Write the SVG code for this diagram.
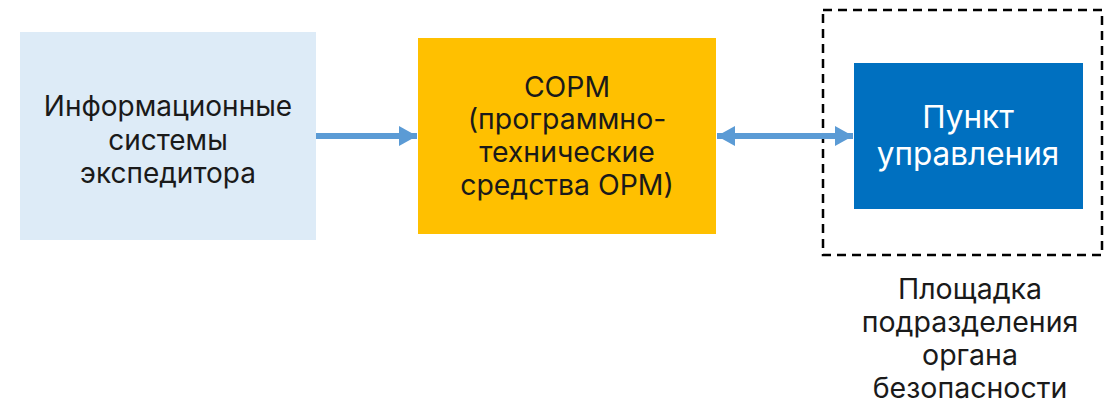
<svg xmlns="http://www.w3.org/2000/svg" width="1104" height="406" viewBox="0 0 1104 406">
<style>
text{font-family:Inter,"Noto Sans",sans-serif;font-size:28px;fill:#1a1a1a;text-anchor:middle}
.m{font-size:28.4px}
.b{font-size:28.5px}
.w{fill:#ffffff;font-size:31.5px}
.c{stroke:#5b9bd5;stroke-width:6;fill:none}
</style>
<defs>
<marker id="ah" markerUnits="userSpaceOnUse" markerWidth="18" markerHeight="20" refX="18" refY="10" orient="auto-start-reverse">
<path d="M0,0 L18,10 L0,20 Z" fill="#5b9bd5"/>
</marker>
</defs>
<rect width="1104" height="406" fill="#ffffff"/>
<g id="zone">
<rect x="823" y="10" width="279" height="245" fill="none" stroke="#000" stroke-width="2.5" stroke-dasharray="9,6"/>
<text class="b" x="970" y="299">Площадка</text>
<text class="b" x="970" y="332">подразделения</text>
<text class="b" x="970" y="365">органа</text>
<text class="b" x="970" y="398">безопасности</text>
</g>
<g id="is">
<rect x="20" y="32" width="296" height="208" fill="#ddebf7"/>
<text x="168" y="116">Информационные</text>
<text x="168" y="150">системы</text>
<text x="168" y="183">экспедитора</text>
</g>
<g id="sorm">
<rect x="418" y="38" width="298" height="196" fill="#ffc000"/>
<text class="m" x="567" y="97">СОРМ</text>
<text class="m" x="567" y="129">(программно-</text>
<text class="m" x="567" y="162">технические</text>
<text class="m" x="567" y="195">средства ОРМ)</text>
</g>
<g id="pu">
<rect x="854" y="63" width="229" height="146" fill="#0070c0"/>
<text class="w" x="968" y="128">Пункт</text>
<text class="w" x="968" y="165">управления</text>
</g>
<g id="connectors">
<line class="c" x1="316" y1="136" x2="417" y2="136" marker-end="url(#ah)"/>
<line class="c" x1="717" y1="136" x2="853" y2="136" marker-start="url(#ah)" marker-end="url(#ah)"/>
</g>
</svg>
